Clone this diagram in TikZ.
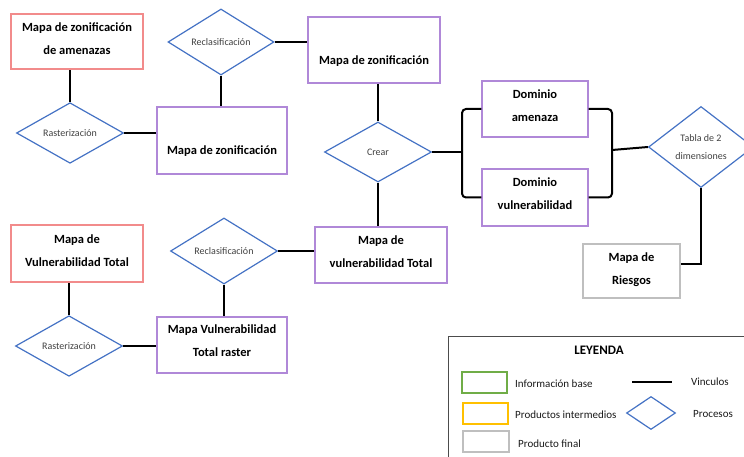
\documentclass[tikz,border=0pt]{standalone}
\usepackage{fontspec}
\setmainfont{Carlito}
\usetikzlibrary{shapes.geometric}
\definecolor{redb}{HTML}{F28B8B}
\definecolor{purb}{HTML}{B088D8}
\definecolor{blueb}{HTML}{4472C4}
\definecolor{grayb}{HTML}{BFBFBF}
\definecolor{greenb}{HTML}{70AD47}
\definecolor{yellowb}{HTML}{FFC000}
\definecolor{proctxt}{HTML}{404040}
\tikzset{
  box/.style={draw, line width=1.2pt, minimum width=#1, inner sep=0pt},
  redbox/.style={box=130pt, draw=redb},
  purbox/.style={box=130pt, draw=purb},
  btxt/.style={font=\fontsize{12.5}{23}\selectfont\bfseries, align=center, inner sep=0pt, text=black},
  proc/.style={diamond, draw=blueb, line width=1.2pt, inner sep=0pt, minimum width=107pt, minimum height=60pt,
     font=\fontsize{10}{18}\selectfont, text=proctxt, align=center},
  link/.style={line width=2pt, black},
  legtxt/.style={font=\fontsize{11}{13}\selectfont, anchor=west, inner sep=0pt, text=black!90},
}
\begin{document}
\begin{tikzpicture}[x=1pt,y=-1pt]
\useasboundingbox (0,0) rectangle (744,457);
% boxes
\node[redbox, minimum width=132pt, minimum height=55pt] (A) at (77,41.5) {};
\node[btxt] at (77,38.5) {Mapa de zonificación\\de amenazas};
\node[purbox, minimum width=130pt, minimum height=67pt] (B) at (222,140.5) {};
\node[btxt] at (222,151) {Mapa de zonificación};
\node[purbox, minimum width=132pt, minimum height=66pt] (C) at (374,50) {};
\node[btxt] at (374,61) {Mapa de zonificación};
\node[purbox, minimum width=106pt, minimum height=56pt] (D) at (535,109) {};
\node[btxt] at (535,105.5) {Dominio\\amenaza};
\node[purbox, minimum width=106pt, minimum height=57pt] (E) at (535,197.5) {};
\node[btxt] at (535,193.5) {Dominio\\vulnerabilidad};
\node[box=97pt, draw=grayb, minimum height=54pt] (F) at (631.5,271) {};
\node[btxt] at (631.5,269.5) {Mapa de\\Riesgos};
\node[redbox, minimum width=132pt, minimum height=57pt] (G) at (77,253.5) {};
\node[btxt] at (77,250.5) {Mapa de\\Vulnerabilidad Total};
\node[purbox, minimum width=130pt, minimum height=56pt] (H) at (222,345) {};
\node[btxt] at (222,341) {Mapa Vulnerabilidad\\Total raster};
\node[purbox, minimum width=132pt, minimum height=56pt] (I) at (381,255) {};
\node[btxt] at (381,251.5) {Mapa de\\vulnerabilidad Total};
% processes
\node[proc] (RasT) at (70,133) {Rasterización};
\node[proc, minimum width=106pt, minimum height=59pt] (RecT) at (221,42) {Reclasificación};
\node[proc] (Crear) at (378,152) {Crear};
\node[proc] (RasB) at (69,346) {Rasterización};
\node[proc] (RecB) at (224,251) {Reclasificación};
\node[proc, minimum width=105pt, minimum height=81pt] (Tab) at (701,147) {Tabla de 2\\dimensiones};
% links
\draw[link] (RasT.north) -- (RasT.north |- A.south);
\draw[link] (RasT.east) -- (RasT.east -| B.west);
\draw[link] (RecT.south) -- (RecT.south |- B.north);
\draw[link] (RecT.east) -- (RecT.east -| C.west);
\draw[link] (Crear.north) -- (Crear.north |- C.south);
\draw[link] (Crear.south) -- (Crear.south |- I.north);
\coordinate (bl) at (462,152);
\draw[link] (Crear.east) -- (bl);
\draw[link, rounded corners=4pt] (D.west) -- (D.west -| bl) -- (E.west -| bl) -- (E.west);
\coordinate (br) at (612,150);
\draw[link, rounded corners=4pt] (D.east) -- (D.east -| br) -- (E.east -| br) -- (E.east);
\draw[link] (br) -- (Tab.west);
\coordinate (fr) at (701,264);
\draw[link] (Tab.south) -- (fr) -- (fr -| F.east);
\draw[link] (RasB.north) -- (RasB.north |- G.south);
\draw[link] (RasB.east) -- (RasB.east -| H.west);
\draw[link] (RecB.south) -- (RecB.south |- H.north);
\draw[link] (RecB.east) -- (RecB.east -| I.west);
% legend
\node[draw=black!70, line width=1.2pt, minimum width=320pt, minimum height=140pt, anchor=north west, inner sep=0pt] (Leg) at (448,336) {};
\node[font=\fontsize{13}{15}\selectfont\bfseries, inner sep=0pt] (LegT) at (599,350) {LEYENDA};
\node[draw=greenb, line width=1.2pt, minimum width=45pt, minimum height=21pt, inner sep=0pt] (Lg) at (484.5,382.5) {};
\node[draw=yellowb, line width=1.2pt, minimum width=45pt, minimum height=21pt, inner sep=0pt] (Ly) at (485.5,413.5) {};
\node[draw=grayb, line width=1.2pt, minimum width=46pt, minimum height=21pt, inner sep=0pt] (Lgr) at (486,441.5) {};
\node[legtxt] at (515,384) {Información base};
\node[legtxt] at (515,415) {Productos intermedios};
\node[legtxt] at (518,444) {Producto final};
\coordinate (l1) at (632,382);
\coordinate (l2) at (672,382);
\draw[link] (l1) -- (l2);
\node[legtxt] at (691,382) {Vinculos};
\node[diamond, draw=blueb, line width=1.2pt, minimum width=49pt, minimum height=33pt, inner sep=0pt] (Ld) at (651,413) {};
\node[legtxt] at (693,414) {Procesos};
\end{tikzpicture}
\end{document}
